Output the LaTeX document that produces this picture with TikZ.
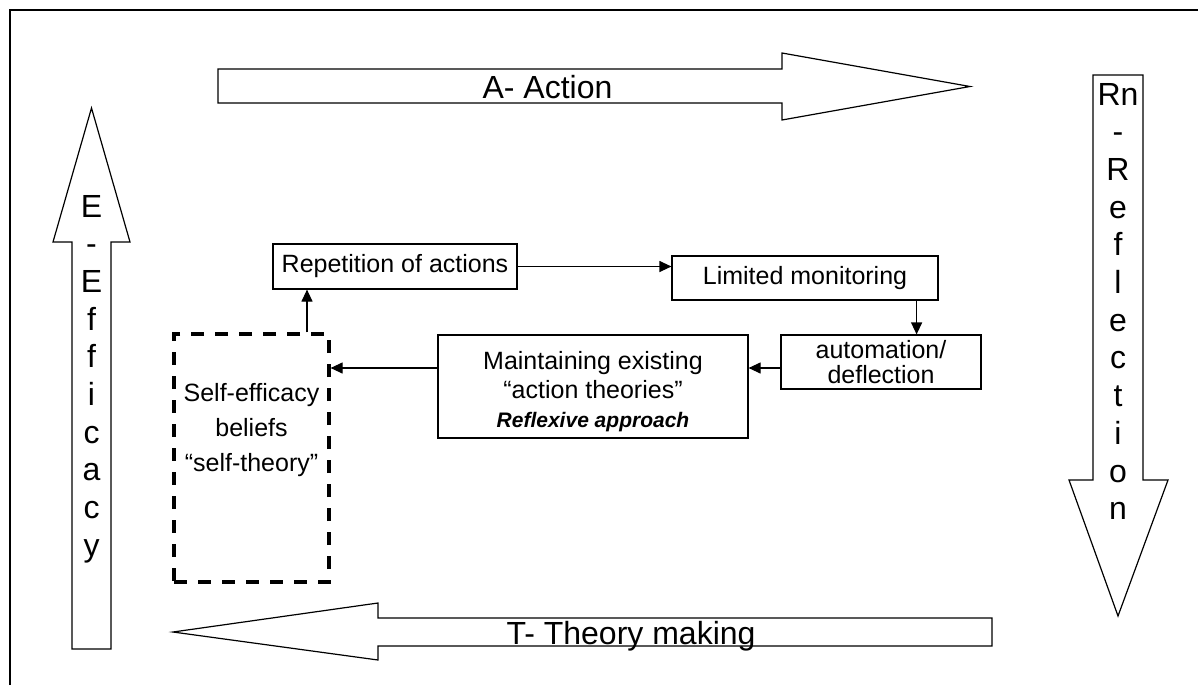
\documentclass[tikz,border=0pt]{standalone}
\usepackage{fontspec}
\setmainfont{Liberation Sans}
\usetikzlibrary{arrows.meta,calc}
\begin{document}
\begin{tikzpicture}[x=0.5pt,y=-0.5pt,
  frame/.style={line width=0.9pt},
  bigarrow/.style={draw, line width=0.6pt, fill=white, line join=miter},
  bigtxt/.style={font=\fontsize{16}{19}\selectfont, inner sep=0pt},
  stepbox/.style={draw, line width=0.6pt, inner sep=0pt,
    font=\fontsize{12.5}{15}\selectfont, align=center},
  boxtxt/.style={inner sep=0pt, align=center},
  dashbox/.style={draw, line width=1.6pt, dash pattern=on 6.5pt off 5.5pt, inner sep=0pt},
  flow/.style={line width=0.6pt, -{Triangle[length=6pt,width=5.5pt]}},
]
\useasboundingbox (0,0) rectangle (1198,685);
% frame
\draw[frame] (10,685) -- (10,10) -- (1198,10);

% the four block arrows round the cycle
\draw[bigarrow] (218,69) -- (782,69) -- (782,53) -- (970,86.5) -- (782,120)
  -- (782,103) -- (218,103) -- cycle;
\draw[bigarrow] (1093,75) -- (1143,75) -- (1143,480) -- (1168,480) -- (1118,616)
  -- (1069,480) -- (1093,480) -- cycle;
\draw[bigarrow] (992,618) -- (378,618) -- (378,603) -- (173,632) -- (378,660)
  -- (378,646) -- (992,646) -- cycle;
\draw[bigarrow] (72,649) -- (72,242) -- (53,242) -- (91.5,108) -- (130,242)
  -- (111,242) -- (111,649) -- cycle;

\node[bigtxt, anchor=base] (atxt) at (547.5,98) {A- Action};
\node[bigtxt, anchor=base] (ttxt) at (631,644) {T- Theory making};
\foreach \ch [count=\i from 0] in {E,-,E,f,f,i,c,a,c,y}
  \node[bigtxt, anchor=base] (eff\i) at (91.5,{217+37.7*\i}) {\ch};
\foreach \ch [count=\i from 0] in {Rn,-,R,e,f,l,e,c,t,i,o,n}
  \node[bigtxt, anchor=base] (refl\i) at (1118,{105+37.7*\i}) {\ch};

% inner loop
\node[stepbox, minimum width=122pt, minimum height=22.5pt] (rep) at (395,266.5)
  {Repetition of actions};
\node[stepbox, minimum width=133pt, minimum height=22pt] (lim) at (805,278)
  {Limited monitoring};
\node[stepbox, minimum width=100pt, minimum height=27pt,
  font=\fontsize{12.5}{12.2}\selectfont] (auto) at (881,362)
  {automation/\\deflection};
\node[stepbox, minimum width=155pt, minimum height=51.5pt] (maint) at (593,386.5) {};
\node[boxtxt, font=\fontsize{12.5}{14.5}\selectfont] (mtxt) at (593,392)
  {Maintaining existing\\“action theories”\\
   {\fontsize{10.5}{13.5}\selectfont\bfseries\itshape Reflexive approach}};
\node[dashbox, minimum width=77.5pt, minimum height=124pt] (self) at (251.5,458) {};
\node[boxtxt, font=\fontsize{12.5}{17.5}\selectfont] (stxt) at (251.5,430)
  {Self-efficacy\\beliefs\\“self-theory”};

\draw[flow] (rep.east) -- (rep.east -| lim.west);
\draw[flow] ([xshift=-11pt]lim.south east) -- ([xshift=-11pt]lim.south east |- auto.north);
\draw[flow] ([yshift=-3pt]auto.west) -- ([yshift=-3pt]auto.west -| maint.east);
\draw[flow] ([yshift=-3pt]auto.west -| maint.west) -- ([yshift=-3pt]auto.west -| self.east);
\draw[flow] ([xshift=27.75pt]self.north) -- ([xshift=27.75pt]self.north |- rep.south);
\end{tikzpicture}
\end{document}
